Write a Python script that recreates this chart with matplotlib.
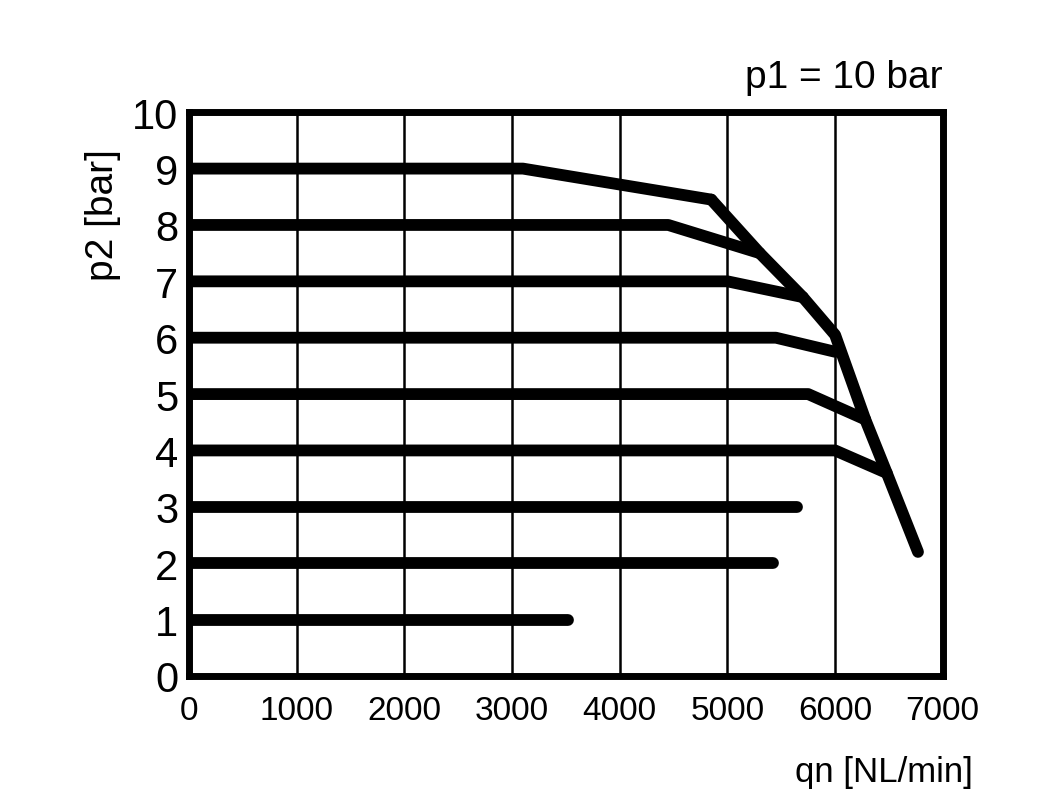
import matplotlib
matplotlib.use('Agg')
import matplotlib.pyplot as plt

# horizontal segments: set pressure p2 and end of flat part (NL/min)
levels = [9, 8, 7, 6, 5, 4, 3, 2, 1]
flat_end = [3100, 4450, 5000, 5450, 5750, 6000, 5650, 5420, 3520]
# where each drooping part meets the envelope (None = no droop)
droop_x = [4850, 5300, 5700, 6000, 6280, 6480, None, None, None]
droop_y = [8.45, 7.5, 6.72, 5.75, 4.55, 3.6, None, None, None]
# envelope curve
env_x = [4850, 5300, 5700, 6000, 6280, 6480, 6770]
env_y = [8.45, 7.5, 6.72, 6.05, 4.55, 3.6, 2.2]

fig = plt.figure(figsize=(10.51, 8.03), dpi=100)
ax = fig.add_axes([0.18, 0.157, 0.717, 0.702])
font = 'Liberation Sans'

for x in range(1000, 7000, 1000):
    ax.axvline(x, color='k', lw=1.8, zorder=1)

lw = 8.5
for p, fe, dx, dy in zip(levels, flat_end, droop_x, droop_y):
    xs, ys = [30, fe], [p, p]
    if dx is not None:
        xs.append(dx)
        ys.append(dy)
    ax.plot(xs, ys, color='k', lw=lw, solid_capstyle='round', solid_joinstyle='round', zorder=3)
ax.plot(env_x, env_y, color='k', lw=lw, solid_capstyle='round', solid_joinstyle='round', zorder=3)

ax.set_xlim(0, 7000)
ax.set_ylim(0, 10)
for s in ax.spines.values():
    s.set_linewidth(5)
ax.tick_params(length=0, pad=8)
ax.set_xticks(range(0, 8000, 1000))
ax.set_xticklabels(['0'] + [str(v) for v in range(1000, 8000, 1000)], fontname=font, fontsize=24)
ax.set_yticks(range(0, 11))
ax.set_yticklabels([str(v) for v in range(0, 11)], fontname=font, fontsize=30)
for t in ax.get_xticklabels():
    t.set_y(-0.015)
ax.set_ylabel('p2 [bar]', fontname=font, fontsize=28, y=0.82, labelpad=8)
ax.text(1.0, 1.03, 'p1 = 10 bar', transform=ax.transAxes, ha='right', va='bottom', fontname=font, fontsize=28)
ax.text(1.04, -0.14, 'qn [NL/min]', transform=ax.transAxes, ha='right', va='top', fontname=font, fontsize=25)

fig.savefig('out.png', dpi=100)
